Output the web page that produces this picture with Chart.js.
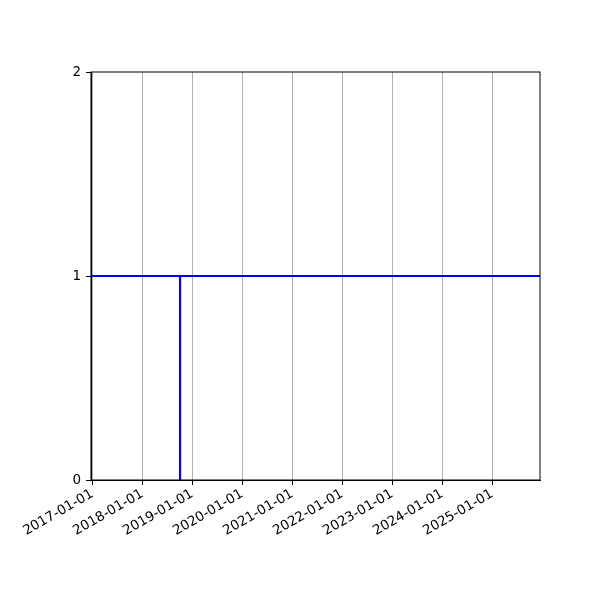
<!DOCTYPE html>
<html>
<head>
<meta charset="utf-8">
<script src="https://cdn.jsdelivr.net/npm/chart.js@4"></script>
<style>
  html, body { margin: 0; padding: 0; background: #fff; }
  #wrap { width: 600px; height: 600px; }
</style>
</head>
<body>
<div id="wrap"><canvas id="chart" width="600" height="600"></canvas></div>
<script>
// axis range and ticks
const xStart = '2016-12-22';
const xEnd = '2025-12-16';
const tickDates = ['2017-01-01', '2018-01-01', '2019-01-01', '2020-01-01', '2021-01-01',
  '2022-01-01', '2023-01-01', '2024-01-01', '2025-01-01'];
const yTicks = [0, 1, 2];

// series
const levelDates = [xStart, xEnd];
const levelValues = [1, 1];
const dropDates = ['2018-10-04', '2018-10-04'];
const dropValues = [0, 1];

const ms = d => Date.parse(d + 'T00:00:00Z');
const fmt = v => new Date(v).toISOString().slice(0, 10);
const pts = (xs, ys) => xs.map((d, i) => ({ x: ms(d), y: ys[i] }));

const frame = {
  id: 'frame',
  afterDraw(chart) {
    const { ctx, chartArea: a } = chart;
    ctx.save();
    ctx.strokeStyle = '#000';
    ctx.lineWidth = 1;
    ctx.strokeRect(a.left, a.top, a.right - a.left, a.bottom - a.top);
    ctx.restore();
  }
};

const font = { family: 'DejaVu Sans', size: 13.5 };

new Chart(document.getElementById('chart'), {
  type: 'line',
  data: {
    datasets: [
      {
        data: pts(levelDates, levelValues),
        borderColor: '#0000ff',
        borderWidth: 2.2,
        pointRadius: 0,
        tension: 0,
      },
      {
        data: pts(dropDates, dropValues),
        borderColor: '#0000ff',
        borderWidth: 2.2,
        pointRadius: 0,
        tension: 0,
      },
    ],
  },
  options: {
    responsive: false,
    animation: false,
    layout: { padding: { top: 72, right: 60, left: 0, bottom: 0 } },
    plugins: { legend: { display: false }, tooltip: { enabled: false } },
    scales: {
      x: {
        type: 'linear',
        min: ms(xStart),
        max: ms(xEnd),
        afterBuildTicks: s => { s.ticks = tickDates.map(d => ({ value: ms(d) })); },
        afterFit: s => { s.height = 120; },
        ticks: {
          color: '#000',
          font: font,
          minRotation: 30,
          maxRotation: 30,
          padding: 1,
          autoSkip: false,
          callback: v => fmt(v),
        },
        grid: { color: '#b0b0b0', lineWidth: 1, tickColor: '#000', tickLength: 5 },
        border: { color: '#000' },
      },
      y: {
        min: 0,
        max: 2,
        afterBuildTicks: s => { s.ticks = yTicks.map(v => ({ value: v })); },
        afterFit: s => { s.width = 91; },
        ticks: { color: '#000', font: font, padding: 5 },
        grid: { drawOnChartArea: false, tickColor: '#000', tickLength: 5 },
        border: { color: '#000' },
      },
    },
  },
  plugins: [frame],
});
</script>
</body>
</html>
